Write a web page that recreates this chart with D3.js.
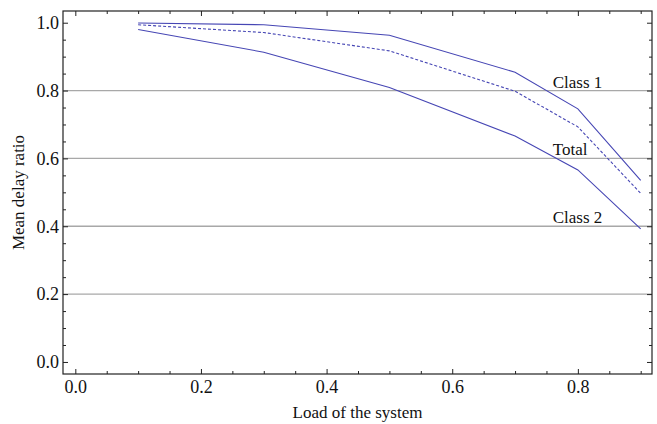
<!DOCTYPE html>
<html><head><meta charset="utf-8">
<script src="https://cdn.jsdelivr.net/npm/d3@7"></script>
<style>body{margin:0;background:#fff}svg{display:block}</style>
</head><body><svg id="c" width="657" height="424"></svg>
<script>
const loads = [0.1, 0.3, 0.5, 0.7, 0.8, 0.9];
const class1 = [0.999, 0.994, 0.963, 0.854, 0.746, 0.535];
const total = [0.994, 0.971, 0.917, 0.798, 0.693, 0.497];
const class2 = [0.980, 0.913, 0.809, 0.666, 0.566, 0.392];
const seriesNames = ["Class 1", "Total", "Class 2"];
const labelPos = [[0.76, 0.8], [0.76, 0.6], [0.76, 0.4]];
const xTicks = [0.0, 0.2, 0.4, 0.6, 0.8];
const yTicks = [0.0, 0.2, 0.4, 0.6, 0.8, 1.0];
const gridY = [0.2, 0.4, 0.6, 0.8];

const FONT = '"Liberation Serif", "Times New Roman", serif';
const svg = d3.select("#c");
const L = 63, R = 652, T = 11, B = 374;
const x = d3.scaleLinear().domain([-0.0196, 0.918]).range([L, R]);
const y = d3.scaleLinear().domain([-0.0355, 1.0345]).range([B, T]);

svg.append("g").selectAll("line").data(gridY).join("line")
  .attr("x1", L).attr("x2", R).attr("y1", d => y(d)).attr("y2", d => y(d))
  .attr("stroke", "#a8a8a8").attr("stroke-width", 1.3);

const fmt = d3.format(".1f");
const minorX = d3.range(0, 0.92, 0.05).filter(v => Math.abs(v*5 - Math.round(v*5)) > 1e-6);
const minorY = d3.range(0, 1.03, 0.05).filter(v => Math.abs(v*5 - Math.round(v*5)) > 1e-6);

function addAxis(axisGen, transform, ticks, len, labels, pad) {
  const g = svg.append("g").attr("transform", transform)
    .call(axisGen.tickValues(ticks).tickSizeInner(-len).tickSizeOuter(0).tickPadding(pad || 0)
      .tickFormat(labels ? fmt : ""));
  g.attr("font-family", null).attr("font-size", null);
  g.select(".domain").remove();
  g.selectAll(".tick line").attr("stroke", "#222").attr("stroke-width", 1);
  g.selectAll(".tick text").style("font-family", FONT).style("font-size", "18px").attr("fill", "#111");
  return g;
}
addAxis(d3.axisBottom(x), `translate(0,${B})`, xTicks, 5, true, 6);
addAxis(d3.axisBottom(x), `translate(0,${B})`, minorX, 3, false);
addAxis(d3.axisTop(x), `translate(0,${T})`, xTicks, 5, false);
addAxis(d3.axisTop(x), `translate(0,${T})`, minorX, 3, false);
addAxis(d3.axisLeft(y), `translate(${L},0)`, yTicks, 5, true, 4);
addAxis(d3.axisLeft(y), `translate(${L},0)`, minorY, 3, false);
addAxis(d3.axisRight(y), `translate(${R},0)`, yTicks, 5, false);
addAxis(d3.axisRight(y), `translate(${R},0)`, minorY, 3, false);

svg.append("rect").attr("x", L).attr("y", T).attr("width", R - L).attr("height", B - T)
  .attr("fill", "none").attr("stroke", "#222").attr("stroke-width", 1.2);

const line = d3.line().x((d, i) => x(loads[i])).y(d => y(d));
const data = [class1, total, class2];
svg.append("g").selectAll("path").data(data).join("path")
  .attr("d", d => line(d)).attr("fill", "none")
  .attr("stroke", "#4646b4").attr("stroke-width", 1.1)
  .attr("stroke-dasharray", (d, i) => i === 1 ? "3,2" : null);

svg.append("g").selectAll("text").data(seriesNames).join("text")
  .attr("x", (d, i) => x(labelPos[i][0])).attr("y", (d, i) => y(labelPos[i][1]) - 3)
  .style("font-family", FONT).style("font-size", "17px").attr("fill", "#111").text(d => d);

svg.append("text").attr("x", (L + R) / 2).attr("y", 418).attr("text-anchor", "middle")
  .style("font-family", FONT).style("font-size", "17px").attr("fill", "#111").text("Load of the system");
svg.append("text").attr("transform", `translate(24,${(T + B) / 2}) rotate(-90)`)
  .attr("text-anchor", "middle").style("font-family", FONT).style("font-size", "17px").attr("fill", "#111")
  .text("Mean delay ratio");
</script></body></html>
